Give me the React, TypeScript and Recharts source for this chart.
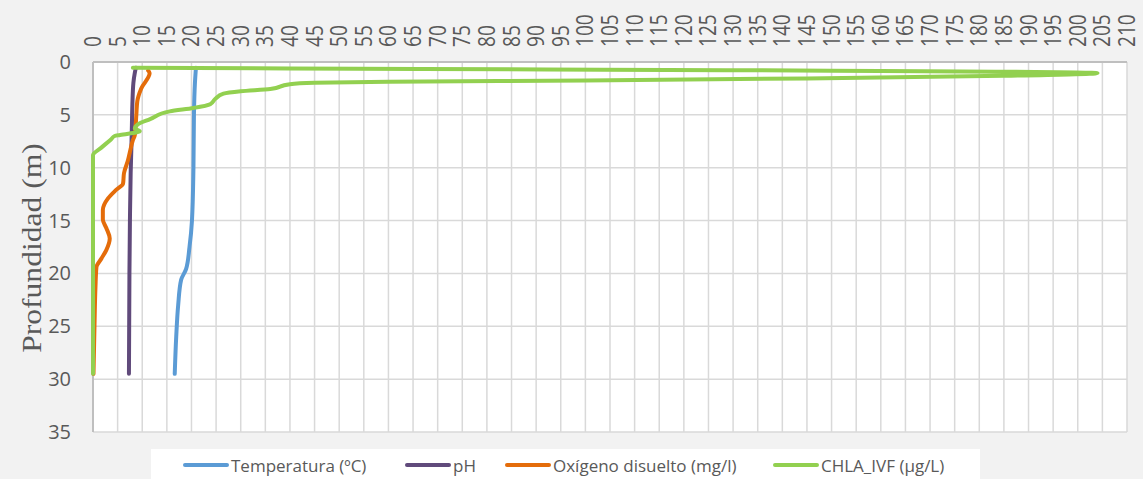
import { CartesianGrid, Scatter, ScatterChart, XAxis, YAxis } from "recharts";

type Point = { v: number; d: number };

// depth (m) / value pairs read from the profile
const temperatura: Point[] = [
  { v: 20.9, d: 0.55 },
  { v: 20.7, d: 2 },
  { v: 20.5, d: 5 },
  { v: 20.4, d: 10 },
  { v: 20.1, d: 15 },
  { v: 19.6, d: 17.5 },
  { v: 18.9, d: 19.6 },
  { v: 17.9, d: 20.6 },
  { v: 17.3, d: 23 },
  { v: 16.9, d: 26 },
  { v: 16.6, d: 29.5 },
];

const ph: Point[] = [
  { v: 8.7, d: 0.55 },
  { v: 8.5, d: 1 },
  { v: 8.2, d: 2 },
  { v: 8.0, d: 4 },
  { v: 7.9, d: 6 },
  { v: 7.8, d: 8 },
  { v: 7.65, d: 10.5 },
  { v: 7.5, d: 15 },
  { v: 7.4, d: 20 },
  { v: 7.3, d: 29.5 },
];

const oxigeno: Point[] = [
  { v: 11.2, d: 0.8 },
  { v: 11.5, d: 1.05 },
  { v: 9.8, d: 2.5 },
  { v: 9.0, d: 3.7 },
  { v: 8.8, d: 5 },
  { v: 8.5, d: 6.9 },
  { v: 8.1, d: 7.4 },
  { v: 7.45, d: 8.6 },
  { v: 7.1, d: 9.3 },
  { v: 6.3, d: 10.5 },
  { v: 6.1, d: 11.5 },
  { v: 4.7, d: 12.1 },
  { v: 3.05, d: 12.9 },
  { v: 2.0, d: 14 },
  { v: 2.0, d: 14.9 },
  { v: 2.7, d: 15.7 },
  { v: 3.4, d: 16.7 },
  { v: 2.7, d: 17.8 },
  { v: 1.7, d: 18.6 },
  { v: 0.7, d: 19.4 },
  { v: 0.5, d: 21.3 },
  { v: 0.3, d: 25 },
  { v: 0.1, d: 29.5 },
];

const chla: Point[] = [
  { v: 8.1, d: 0.55 },
  { v: 204, d: 1.05 },
  { v: 185, d: 1.3 },
  { v: 145, d: 1.55 },
  { v: 100, d: 1.75 },
  { v: 60, d: 1.88 },
  { v: 45, d: 1.97 },
  { v: 40, d: 2.1 },
  { v: 36, d: 2.55 },
  { v: 30, d: 2.77 },
  { v: 26.5, d: 3.0 },
  { v: 24.8, d: 3.5 },
  { v: 23.8, d: 4.0 },
  { v: 20.4, d: 4.35 },
  { v: 15.6, d: 4.67 },
  { v: 11.6, d: 5.4 },
  { v: 9.1, d: 5.9 },
  { v: 8.5, d: 6.3 },
  { v: 9.5, d: 6.55 },
  { v: 5.5, d: 6.9 },
  { v: 4.4, d: 7.0 },
  { v: 3.7, d: 7.3 },
  { v: 1.7, d: 8.1 },
  { v: 0, d: 8.8 },
  { v: 0, d: 29.5 },
];

const xTicks = [
  0, 5, 10, 15, 20, 25, 30, 35, 40, 45, 50, 55, 60, 65, 70, 75, 80, 85, 90, 95, 100, 105,
  110, 115, 120, 125, 130, 135, 140, 145, 150, 155, 160, 165, 170, 175, 180, 185, 190, 195,
  200, 205, 210,
];
const yTicks = [0, 5, 10, 15, 20, 25, 30, 35];

const series = [
  { name: "Temperatura (ºC)", data: temperatura, color: "#5B9BD5", width: 222 },
  { name: "pH", data: ph, color: "#604A7B", width: 100 },
  { name: "Oxígeno disuelto (mg/l)", data: oxigeno, color: "#E46C0A", width: 268 },
  { name: "CHLA_IVF (µg/L)", data: chla, color: "#92D050", width: 200 },
];

const TICK_FONT = '"Open Sans", "Noto Sans", sans-serif';

function XTick({ x, payload }: any) {
  return (
    <text
      transform={`translate(${x + 8},47) rotate(-90) scale(0.83,1)`}
      textAnchor="start"
      fill="#595959"
      fontSize={23}
      fontFamily={TICK_FONT}
    >
      {payload.value}
    </text>
  );
}

function YTick({ y, payload }: any) {
  return (
    <text x={71} y={y + 7} textAnchor="end" fill="#595959" fontSize={20} fontFamily={TICK_FONT}>
      {payload.value}
    </text>
  );
}

export default function App() {
  return (
    <div
      style={{
        position: "absolute",
        left: 0,
        top: 0,
        width: 1143,
        height: 479,
        background: "#f2f2f2",
        overflow: "hidden",
      }}
    >
      <ScatterChart width={1143} height={479} margin={{ top: 0, right: 16, bottom: 47, left: 0 }}>
        <CartesianGrid stroke="#d9d9d9" strokeWidth={1.5} fill="#ffffff" />
        <XAxis
          type="number"
          dataKey="v"
          orientation="top"
          domain={[0, 210]}
          ticks={xTicks}
          interval={0}
          height={62}
          tick={<XTick />}
          tickLine={false}
          axisLine={{ stroke: "#bfbfbf", strokeWidth: 2 }}
        />
        <YAxis
          type="number"
          dataKey="d"
          domain={[0, 35]}
          ticks={yTicks}
          interval={0}
          reversed
          width={93}
          tick={<YTick />}
          tickLine={false}
          axisLine={{ stroke: "#bfbfbf", strokeWidth: 2 }}
        />
        {series.map((s) => (
          <Scatter
            key={s.name}
            name={s.name}
            data={s.data}
            line={{ stroke: s.color, strokeWidth: 4, strokeLinecap: "round", strokeLinejoin: "round" }}
            lineType="joint"
            lineJointType="monotoneY"
            shape={() => <g />}
            isAnimationActive={false}
          />
        ))}
        <text
          transform="translate(41,248) rotate(-90) scale(1.17,1)"
          textAnchor="middle"
          fill="#595959"
          fontSize={27}
          fontFamily='"Liberation Serif", "DejaVu Serif", serif'
        >
          Profundidad (m)
        </text>
      </ScatterChart>
      <div
        style={{
          position: "absolute",
          left: 151,
          top: 449,
          width: 829,
          height: 32,
          background: "#ffffff",
          display: "flex",
          alignItems: "center",
          fontFamily: TICK_FONT,
          fontSize: 17,
          color: "#595959",
        }}
      >
        {series.map((s, i) => (
          <div
            key={s.name}
            style={{
              display: "flex",
              alignItems: "center",
              marginLeft: i === 0 ? 32 : 0,
              width: s.width,
              flexShrink: 0,
            }}
          >
            <span
              style={{
                display: "inline-block",
                width: 46,
                height: 4,
                borderRadius: 2,
                background: s.color,
                marginRight: 2,
              }}
            />
            <span>{s.name}</span>
          </div>
        ))}
      </div>
    </div>
  );
}
